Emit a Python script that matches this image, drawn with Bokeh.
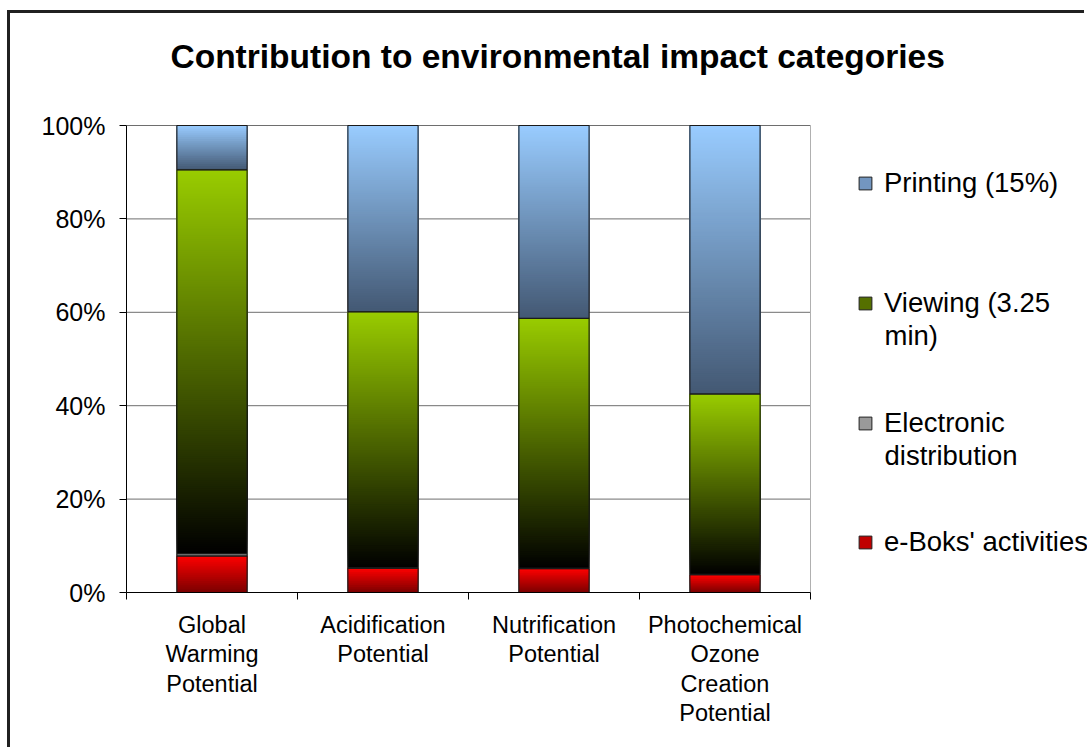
import numpy as np
from bokeh.plotting import figure
from bokeh.models import Range1d, FixedTicker, ColumnDataSource, Legend, LegendItem, Label
from bokeh.embed import file_html
from bokeh.resources import INLINE

# ---------------- data ----------------
title_text = "Contribution to environmental impact categories"
categories = ["Global\nWarming\nPotential", "Acidification\nPotential",
              "Nutrification\nPotential", "Photochemical\nOzone\nCreation\nPotential"]
series_names = ["e-Boks' activities", "Electronic\ndistribution", "Viewing (3.25\nmin)", "Printing (15%)"]
eboks = [7.8, 5.2, 5.1, 3.8]
electronic = [0.5, 0.1, 0.1, 0.1]
viewing = [82.2, 54.8, 53.5, 38.6]
printing = [9.5, 39.9, 41.3, 57.5]
y_ticks = [0, 20, 40, 60, 80, 100]
y_tick_labels = ["0%", "20%", "40%", "60%", "80%", "100%"]

# gradient colours (bottom, top) per series
grad_colors = [("#7a0000", "#ff0000"), ("#5a5a5a", "#c8c8c8"),
               ("#000000", "#99cc00"), ("#435873", "#99ccff")]
legend_colors = ["#c00000", "#9a9a9a", "#557000", "#7396c0"]

series = [eboks, electronic, viewing, printing]
ncat = len(categories)
xs = np.arange(1, ncat + 1)
BAR_W = 0.41

# ---------------- geometry (pixels) ----------------
FIG_W, FIG_H = 1077, 737
FRAME_L = 116          # left edge of the plotting area
PLOT_T = 112           # top of the plotting area (100 %) from the figure top
PLOT_H = 467           # height of the plotting area
PLOT_W = 684           # width of the plotting area (4 categories)
BOTTOM = FIG_H - PLOT_T - PLOT_H
frame_w = FIG_W - FRAME_L
x_end = 0.5 + ncat * frame_w / PLOT_W
y_end = 100 * (PLOT_T + PLOT_H) / PLOT_H


def hex2rgb(h):
    h = h.lstrip("#")
    return np.array([int(h[i:i + 2], 16) for i in (0, 2, 4)], dtype=float)


def rgb2hex(c):
    return "#%02x%02x%02x" % tuple(int(round(v)) for v in c)


p = figure(width=FIG_W, height=FIG_H, x_range=Range1d(0.5, x_end), y_range=Range1d(0, y_end),
           output_backend="svg", toolbar_location=None,
           min_border_left=FRAME_L, min_border_right=0, min_border_top=0,
           min_border_bottom=BOTTOM)
p.styles = {"border-top": "3px solid #202020", "border-left": "3px solid #202020",
            "margin-left": "7px", "margin-top": "10px"}
p.outline_line_color = None
p.xgrid.visible = False
p.ygrid.visible = False

# gridlines & right edge of the plot area
p.segment(x0=0.5, x1=0.5 + ncat, y0=y_ticks, y1=y_ticks, line_color="#6e6e6e", line_width=1)
p.segment(x0=[0.5 + ncat], x1=[0.5 + ncat], y0=[y_ticks[0]], y1=[y_ticks[-1]],
          line_color="#b0b0b0", line_width=1)

# gradient-filled stacked bars
strips = dict(left=[], right=[], bottom=[], top=[], color=[])
outl = dict(left=[], right=[], bottom=[], top=[])
base_renderers = []
base = np.zeros(ncat)
for s, vals in enumerate(series):
    vals = np.array(vals, dtype=float)
    c0, c1 = hex2rgb(grad_colors[s][0]), hex2rgb(grad_colors[s][1])
    seg = dict(left=xs - BAR_W / 2, right=xs + BAR_W / 2, bottom=base.copy(), top=base + vals)
    base_renderers.append(p.quad(left="left", right="right", bottom="bottom", top="top",
                                 fill_color=legend_colors[s], line_color="#202020", line_width=1,
                                 source=ColumnDataSource(seg)))
    for i, x in enumerate(xs):
        b, t = base[i], base[i] + vals[i]
        n = max(3, int(vals[i] * 2.5))
        edges = np.linspace(b, t, n + 1)
        for k in range(n):
            f = (k + 0.5) / n
            strips["left"].append(x - BAR_W / 2)
            strips["right"].append(x + BAR_W / 2)
            strips["bottom"].append(edges[k])
            strips["top"].append(t)          # overlapping strips: no seams
            strips["color"].append(rgb2hex(c0 + (c1 - c0) * f))
        outl["left"].append(x - BAR_W / 2)
        outl["right"].append(x + BAR_W / 2)
        outl["bottom"].append(b)
        outl["top"].append(t)
    base = base + vals

p.quad(left="left", right="right", bottom="bottom", top="top", fill_color="color",
       line_color=None, source=ColumnDataSource(strips))
p.quad(left="left", right="right", bottom="bottom", top="top", fill_color=None,
       line_color="#1a1a1a", line_width=1, source=ColumnDataSource(outl))

# ---------------- axes ----------------
p.xaxis.bounds = (0.5, 0.5 + ncat)
p.xaxis.ticker = FixedTicker(ticks=list(xs), minor_ticks=list(np.arange(0.5, ncat + 1, 1.0)))
p.xaxis.major_label_overrides = {int(x): c for x, c in zip(xs, categories)}
p.xaxis.major_tick_line_color = None
p.xaxis.minor_tick_line_color = "black"
p.xaxis.minor_tick_out = 7
p.xaxis.minor_tick_in = 0
p.xaxis.major_label_standoff = 12
p.xaxis.major_label_text_font = "Liberation Sans"
p.xaxis.major_label_text_font_size = "23.5px"
p.xaxis.major_label_text_line_height = 1.14
p.xaxis.major_label_text_color = "black"
p.xaxis.axis_line_color = "black"

p.yaxis.bounds = (y_ticks[0], y_ticks[-1])
p.yaxis.ticker = FixedTicker(ticks=y_ticks, minor_ticks=[])
p.yaxis.major_label_overrides = {t: l for t, l in zip(y_ticks, y_tick_labels)}
p.yaxis.major_tick_out = 7
p.yaxis.major_tick_in = 0
p.yaxis.major_label_standoff = 14
p.yaxis.major_label_text_font = "Liberation Sans"
p.yaxis.major_label_text_font_size = "25px"
p.yaxis.major_label_text_color = "black"
p.yaxis.axis_line_color = "black"

# ---------------- title ----------------
p.add_layout(Label(x=44, y=PLOT_H + 125 - 56, x_units="screen", y_units="screen",
                   text=title_text, text_font="Liberation Sans", text_font_size="33.5px",
                   text_font_style="bold", text_color="black",
                   text_align="left", text_baseline="middle"))

# ---------------- legend ----------------
LEG_FONT = "27.5px"
legend_order = [3, 2, 1, 0]                  # top to bottom
legend_center = [183, 303, 423, 542]         # first-line centre, px from top of page
for j, s in enumerate(legend_order):
    lines = series_names[s].split("\n")
    yc = 592 - legend_center[j]
    lg = Legend(items=[LegendItem(label=lines[0], renderers=[base_renderers[s]])],
                location=(731, yc - 16),
                margin=0, padding=0, border_line_color=None, background_fill_alpha=0,
                label_text_font="Liberation Sans", label_text_font_size=LEG_FONT,
                label_text_color="black",
                glyph_width=16, glyph_height=16, label_standoff=11, spacing=0)
    p.add_layout(lg, "center")
    for m, extra in enumerate(lines[1:], start=1):
        p.add_layout(Label(x=758, y=yc - 32 * m, x_units="screen", y_units="screen",
                           text=extra, text_font="Liberation Sans", text_font_size=LEG_FONT,
                           text_color="black", text_align="left", text_baseline="middle"))

open("out.html", "w").write(file_html(p, INLINE))
